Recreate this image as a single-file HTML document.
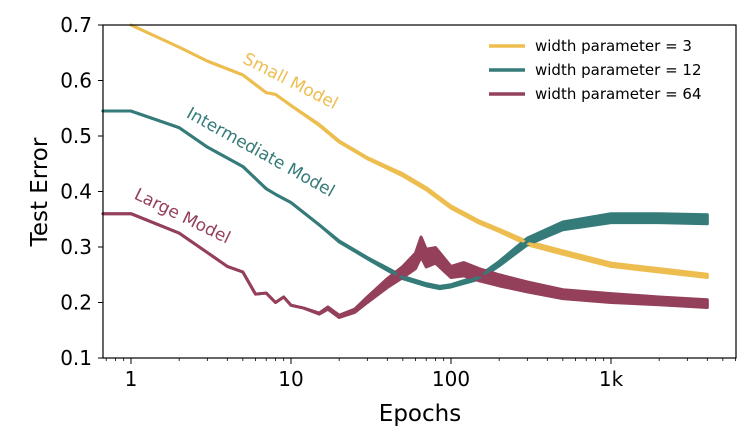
<!DOCTYPE html>
<html><head><meta charset="utf-8"><style>
body{margin:0;background:#fff;}
svg{display:block;font-family:"DejaVu Sans","Liberation Sans",sans-serif;}
</style></head><body>
<svg id="chart" width="752" height="441" viewBox="0 0 752 441">
<g id="bands"></g><g id="lines"></g>
<rect x="103" y="25" width="633" height="333" fill="none" stroke="#000" stroke-width="1.2"/>
<g id="axes"></g>
<text x="420" y="421" font-size="23" text-anchor="middle">Epochs</text>
<text x="47" y="192" font-size="23" text-anchor="middle" transform="rotate(-90 47 192)">Test Error</text>
<text x="288" y="86" font-size="17" fill="#EDBE4F" text-anchor="middle" transform="rotate(27 288 86)">Small Model</text>
<text x="258" y="157" font-size="17" fill="#357B79" text-anchor="middle" transform="rotate(29 258 157)">Intermediate Model</text>
<text x="180" y="221" font-size="17" fill="#94405A" text-anchor="middle" transform="rotate(26 180 221)">Large Model</text>
<g>
<line x1="489" y1="46" x2="525" y2="46" stroke="#EDBE4F" stroke-width="3.5"/>
<text x="535" y="51" font-size="15">width parameter = 3</text>
<line x1="489" y1="70" x2="525" y2="70" stroke="#357B79" stroke-width="3.5"/>
<text x="535" y="75" font-size="15">width parameter = 12</text>
<line x1="489" y1="94" x2="525" y2="94" stroke="#94405A" stroke-width="3.5"/>
<text x="535" y="99" font-size="15">width parameter = 64</text>
</g>
</svg>
<script>
const smallEpochs=[1,2,3,5,7,8,10,15,20,30,50,70,100,150,200,300,500,1000,2000,4000];
const smallValues=[0.70,0.66,0.635,0.61,0.578,0.575,0.555,0.52,0.49,0.46,0.43,0.405,0.372,0.345,0.33,0.307,0.29,0.268,0.258,0.248];
const smallNoise=[0,0,0,0,0,0,0,0.001,0.001,0.001,0.002,0.002,0.002,0.002,0.002,0.003,0.003,0.003,0.003,0.003];
const midEpochs=[0.667,1,2,3,5,7,8,10,15,20,30,40,50,70,85,100,150,200,300,500,1000,2000,4000];
const midValues=[0.545,0.545,0.515,0.48,0.445,0.405,0.395,0.38,0.34,0.31,0.28,0.26,0.245,0.232,0.227,0.23,0.245,0.27,0.31,0.338,0.352,0.352,0.35];
const midNoise=[0,0,0,0,0,0,0,0,0,0.001,0.001,0.002,0.002,0.002,0.002,0.002,0.003,0.004,0.006,0.007,0.008,0.008,0.008];
const largeEpochs=[0.667,1,2,3,4,5,6,7,8,9,10,12,15,17,20,25,30,40,50,60,65,70,80,100,120,150,200,300,500,1000,2000,4000];
const largeValues=[0.36,0.36,0.325,0.29,0.265,0.255,0.215,0.217,0.2,0.21,0.195,0.19,0.18,0.19,0.175,0.185,0.205,0.235,0.255,0.275,0.3,0.28,0.285,0.255,0.26,0.25,0.24,0.228,0.215,0.208,0.203,0.198];
const largeNoise=[0,0,0,0,0,0,0,0,0,0,0,0,0.001,0.002,0.002,0.003,0.005,0.008,0.01,0.014,0.018,0.016,0.014,0.01,0.012,0.011,0.01,0.009,0.008,0.008,0.007,0.007];
const yTicks=[0.1,0.2,0.3,0.4,0.5,0.6,0.7];
const xTicks=[1,10,100,1000];
const xTickLabels=["1","10","100","1k"];

const X0=131,DEC=160,YT=25,YB=358,YMIN=0.1,YMAX=0.7;
function xs(e){return X0+Math.log10(e)*DEC;}
function ys(v){return YB-(v-YMIN)/(YMAX-YMIN)*(YB-YT);}
const NS="http://www.w3.org/2000/svg";
function mk(tag,attrs,parent){const el=document.createElementNS(NS,tag);for(const k in attrs)el.setAttribute(k,attrs[k]);parent.appendChild(el);return el;}
const bands=document.getElementById('bands'),lines=document.getElementById('lines'),axes=document.getElementById('axes');
function series(ep,vals,noise,color,name){
  let up=[],lo=[];
  for(let i=0;i<ep.length;i++){up.push(xs(ep[i])+','+ys(vals[i]+noise[i]));lo.unshift(xs(ep[i])+','+ys(vals[i]-noise[i]));}
  const b=mk('polygon',{points:up.concat(lo).join(' '),fill:color,stroke:color,'stroke-width':3,'stroke-linejoin':'round'},bands);
  
  
  const pts=ep.map((e,i)=>xs(e)+','+ys(vals[i])).join(' ');
  const l=mk('polyline',{points:pts,fill:'none',stroke:color,'stroke-width':3,'stroke-linejoin':'round'},lines);
  
  
}
series(smallEpochs,smallValues,smallNoise,'#EDBE4F','width-3');
series(midEpochs,midValues,midNoise,'#357B79','width-12');
series(largeEpochs,largeValues,largeNoise,'#94405A','width-64');
yTicks.forEach(v=>{
  const y=ys(v);
  const t=mk('line',{x1:98,y1:y,x2:103,y2:y,stroke:'#000'},axes);
  
  
  const tx=mk('text',{x:92,y:y+7,'font-size':20,'text-anchor':'end'},axes);
  tx.textContent=v.toFixed(1);
  
  
});
xTicks.forEach((v,i)=>{
  const x=xs(v);
  const t=mk('line',{x1:x,y1:358,x2:x,y2:364,stroke:'#000'},axes);
  
  
  const tx=mk('text',{x:x,y:386,'font-size':20,'text-anchor':'middle'},axes);
  tx.textContent=xTickLabels[i];
  
  
});
[0.1,1,10,100,1000].forEach(d=>{for(let k=2;k<10;k++){const e=d*k;const x=xs(e);if(x<103||x>736)continue;
  const m=mk('line',{x1:x,y1:358,x2:x,y2:361,stroke:'#000','stroke-width':0.8},axes);
  
  }});
</script>
</body></html>
